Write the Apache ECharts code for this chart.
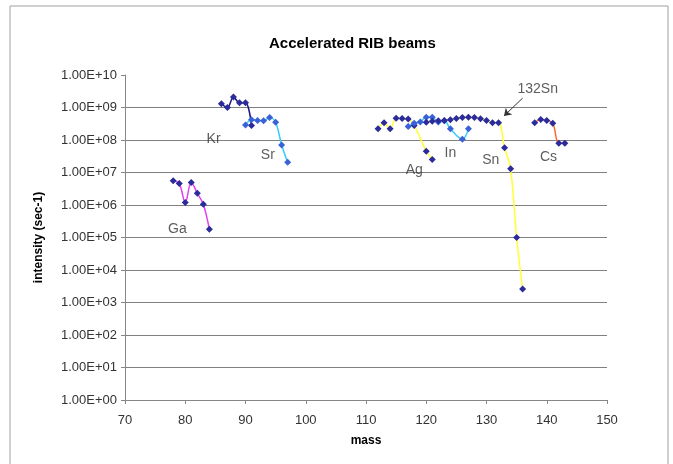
<!DOCTYPE html>
<html>
<head>
<meta charset="utf-8">
<script src="https://cdn.jsdelivr.net/npm/echarts@6/dist/echarts.min.js"></script>
<style>
  html, body { margin: 0; padding: 0; background: #fff; }
  #main { width: 673px; height: 464px; }
</style>
</head>
<body>
<div id="main"></div>
<script>
// beam intensities (mass number, particles per second)
const gaMass = [78, 79, 80, 81, 82, 83, 84];
const gaRate = [5.6e6, 4.6e6, 1.2e6, 4.9e6, 2.3e6, 1.05e6, 1.8e5];

const krMass = [86, 87, 88, 89, 90, 91];
const krRate = [1.3e9, 1.0e9, 2.1e9, 1.4e9, 1.4e9, 2.8e8];

const srMass = [90, 91, 92, 93, 94, 95, 96, 97];
const srRate = [2.9e8, 4.2e8, 4.0e8, 3.9e8, 4.9e8, 3.5e8, 7.0e7, 2.05e7];

const agMass = [112, 113, 114, 115, 116, 117, 118, 120, 121];
const agRate = [2.2e8, 3.4e8, 2.2e8, 4.7e8, 4.6e8, 4.4e8, 2.8e8, 4.5e7, 2.5e7];

const inMass = [117, 118, 119, 120, 121, 122, 123, 124, 126, 127];
const inRate = [2.6e8, 3.3e8, 3.6e8, 5.0e8, 5.0e8, 3.6e8, 3.9e8, 2.2e8, 1.05e8, 2.2e8];

const snMass = [120, 121, 122, 123, 124, 125, 126, 127, 128, 129, 130, 131, 132, 133, 134, 135, 136];
const snRate = [3.5e8, 3.8e8, 3.9e8, 4.0e8, 4.2e8, 4.6e8, 4.9e8, 5.0e8, 4.9e8, 4.5e8, 4.0e8, 3.4e8, 3.4e8, 5.8e7, 1.3e7, 1.0e5, 2.6e3];

const csMass = [138, 139, 140, 141, 142, 143];
const csRate = [3.4e8, 4.3e8, 4.0e8, 3.3e8, 7.9e7, 7.9e7];

// element name labels
const tagText = ['Ga', 'Kr', 'Sr', 'Ag', 'In', 'Sn', 'Cs', '132Sn'];
const tagMass = [78.7, 84.7, 93.7, 118.0, 124.0, 130.7, 140.3, 138.5];
const tagRate = [1.8e5, 1.07e8, 3.5e7, 1.2e7, 4.0e7, 2.4e7, 3.0e7, 3.7e9];

const xTicks = [70, 80, 90, 100, 110, 120, 130, 140, 150];

function pairs(m, r) {
  return m.map(function (v, i) { return [v, r[i]]; });
}

function beam(name, m, r, lineColor, dotColor) {
  return {
    name: name,
    type: 'line',
    data: pairs(m, r),
    smooth: 0.35,
    symbol: 'diamond',
    symbolSize: 7,
    lineStyle: { color: lineColor, width: 1.5 },
    itemStyle: { color: dotColor, borderWidth: 0 },
    emphasis: { disabled: true }
  };
}

let chart = echarts.init(document.getElementById('main'));

let sn = beam('Sn', snMass, snRate, '#ffff33', '#2b2b9c');
// arrow pointing at 132Sn
sn.markLine = {
  silent: true,
  symbol: ['none', 'arrow'],
  symbolSize: 7,
  label: { show: false },
  lineStyle: { color: '#333', width: 1, type: 'solid' },
  data: [[{ coord: [136.0, 1.95e9] }, { coord: [132.9, 5.5e8] }]]
};

chart.setOption({
  backgroundColor: '#fff',
  animation: false,
  textStyle: { fontFamily: 'Liberation Sans, Arial, sans-serif' },
  title: {
    text: 'Accelerated RIB beams',
    left: 264,
    top: 31,
    textStyle: { fontSize: 15, fontWeight: 'bold', color: '#000' }
  },
  graphic: [{
    type: 'rect',
    shape: { x: 10, y: 6, width: 658, height: 470 },
    style: { fill: 'none', stroke: '#a0a0a0', lineWidth: 1 },
    silent: true
  }],
  grid: { left: 125, right: 66, top: 75, bottom: 64 },
  xAxis: {
    type: 'value',
    min: xTicks[0],
    max: xTicks[xTicks.length - 1],
    interval: 10,
    name: 'mass',
    nameLocation: 'middle',
    nameGap: 35,
    nameTextStyle: { fontSize: 12, fontWeight: 'bold', color: '#000' },
    axisLine: { show: true, onZero: false, lineStyle: { color: '#868686' } },
    axisTick: { show: true, length: 4, lineStyle: { color: '#868686' } },
    axisLabel: { fontSize: 13, color: '#333', margin: 14 },
    splitLine: { show: false }
  },
  yAxis: {
    type: 'log',
    logBase: 10,
    min: 1,
    max: 1e10,
    interval: 1,
    splitNumber: 10,
    name: 'intensity (sec-1)',
    nameLocation: 'middle',
    nameGap: 80,
    nameTextStyle: { fontSize: 12, fontWeight: 'bold', color: '#000' },
    axisLine: { show: true, lineStyle: { color: '#868686' } },
    axisTick: { show: true, length: 4, lineStyle: { color: '#868686' } },
    axisLabel: {
      fontSize: 13,
      color: '#333',
      margin: 8,
      showMinLabel: true,
      showMaxLabel: true,
      formatter: function (v) {
        let e = Math.round(Math.log10(v));
        return '1.00E+' + (e < 10 ? '0' + e : e);
      }
    },
    splitLine: { show: true, showMaxLine: false, lineStyle: { color: '#808080', width: 1 } }
  },
  series: [
    beam('Ga', gaMass, gaRate, '#e040f0', '#2b2b9c'),
    beam('Kr', krMass, krRate, '#1a1a80', '#2b2b9c'),
    beam('Sr', srMass, srRate, '#33ccff', '#3a62d6'),
    beam('Ag', agMass, agRate, '#ffff33', '#2b2b9c'),
    beam('In', inMass, inRate, '#33ccff', '#3a62d6'),
    sn,
    beam('Cs', csMass, csRate, '#ff6633', '#2b2b9c'),
    {
      name: 'tags',
      type: 'scatter',
      symbolSize: 0,
      silent: true,
      data: tagText.map(function (t, i) { return { name: t, value: [tagMass[i], tagRate[i]] }; }),
      label: {
        show: true,
        position: 'inside',
        formatter: '{b}',
        fontSize: 14,
        color: '#333'
      }
    }
  ]
});
</script>
</body>
</html>
